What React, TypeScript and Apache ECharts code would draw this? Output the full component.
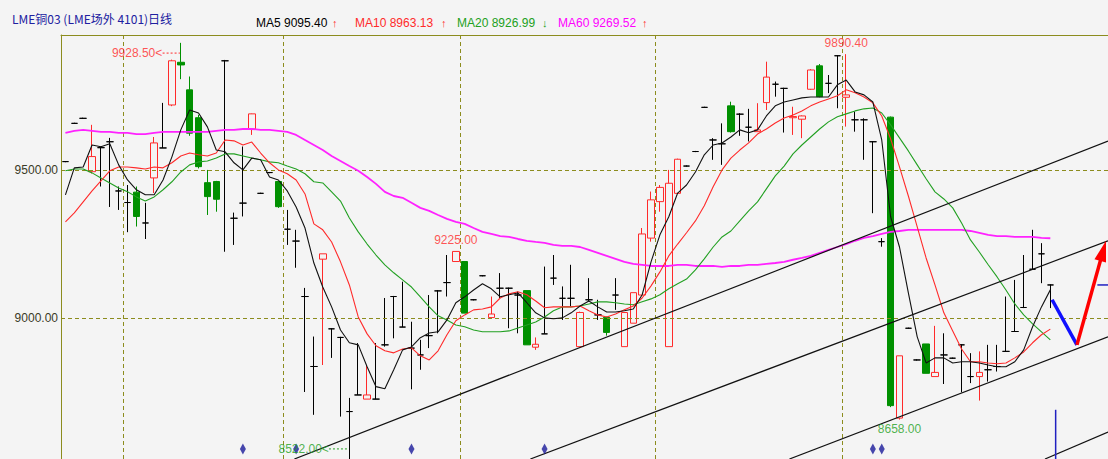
import React, { useEffect, useRef } from 'react';
import * as echarts from 'echarts';

// ---------- data ----------
const slotCount = 118; // 112 trading days + empty space on the right

const opens = [
  9528, 9657, 9674, 9494, 9575, 9595, 9429, 9390, 9425, 9321,
  9473, 9574, 9719, 9863, 9770, 9676, 9457, 9461, 9868, 9337,
  9388, 9638, 9421, 9491, 9461, 9300, 9260, 9073, 8837, 9199,
  8964, 8935, 8685, 8741, 8727, 8727, 8910, 9073, 8970, 8899,
  8876, 8941, 9092, 9120, 9191, 9191, 9062, 9143, 9002, 9101,
  9101, 9078, 9093, 8902, 8947, 9135, 9067, 9067, 8904, 9062,
  9011, 9003, 9078, 8904, 8983, 9078, 9270, 9393, 8904, 9421,
  9513, 9562, 9711, 9601, 9588, 9716, 9688, 9644, 9629, 9727,
  9789, 9775, 9676, 9671, 9772, 9851, 9792, 9885, 9745, 9669,
  9669, 9595, 9258, 9678, 8663, 8966, 8859, 8913, 8803, 8876,
  8865, 8910, 8803, 8803, 8826, 8837, 8888, 8955, 9036, 9165,
  9217, 9112,
];
const closes = [
  9528, 9657, 9674, 9545, 9575, 9595, 9429, 9390, 9343, 9321,
  9591, 9574, 9868, 9854, 9624, 9511, 9410, 9401, 9868, 9337,
  9388, 9689, 9421, 9491, 9376, 9300, 9260, 9073, 8837, 9217,
  8964, 8935, 8685, 8741, 8741, 8727, 8910, 9073, 8970, 8899,
  8876, 8941, 9092, 9120, 9225, 9017, 9062, 9143, 9014, 9101,
  9101, 9078, 8910, 8912, 8947, 9135, 9067, 9067, 9019, 9062,
  9011, 8952, 9078, 9019, 9086, 9284, 9399, 9441, 9455, 9536,
  9513, 9562, 9711, 9601, 9588, 9629, 9688, 9644, 9635, 9813,
  9789, 9775, 9680, 9682, 9837, 9747, 9792, 9885, 9753, 9669,
  9669, 9595, 9258, 8705, 8873, 8966, 8859, 8814, 8817, 8876,
  8865, 8910, 8803, 8817, 8826, 8837, 8888, 8955, 9036, 9165,
  9217, 9112,
];
const lows = [
  9526, 9655, 9672, 9488, 9444, 9375, 9365, 9290, 9309, 9267,
  9422, 9574, 9715, 9806, 9615, 9505, 9348, 9359, 9224, 9247,
  9343, 9618, 9419, 9489, 9372, 9247, 9170, 8751, 8674, 8842,
  8866, 8668, 8522, 8741, 8727, 8727, 8904, 8932, 8970, 8760,
  8826, 8899, 8949, 9073, 9191, 9017, 9060, 9141, 9002, 9067,
  8966, 8949, 8910, 8893, 8947, 9112, 8994, 9039, 8904, 9056,
  8994, 8941, 9028, 8904, 8983, 9075, 9258, 9359, 8904, 9419,
  9511, 9560, 9709, 9534, 9517, 9626, 9615, 9596, 9629, 9702,
  9747, 9626, 9618, 9607, 9770, 9745, 9759, 9708, 9646, 9629,
  9534, 9354, 9241, 8700, 8658, 8964, 8857, 8814, 8803, 8778,
  8863, 8750, 8781, 8722, 8786, 8820, 8888, 8955, 9034, 9165,
  9118, 9034,
];
const highs = [
  9530, 9659, 9676, 9652, 9579, 9608, 9444, 9449, 9444, 9389,
  9611, 9726, 9872, 9928.5, 9815, 9686, 9500, 9463, 9871, 9356,
  9579, 9690, 9423, 9493, 9463, 9365, 9298, 9102, 8938, 9217,
  8966, 8937, 8731, 8916, 8842, 8916, 9068, 9075, 9123, 8988,
  8927, 9078, 9095, 9213, 9225, 9191, 9064, 9145, 9073, 9152,
  9103, 9090, 9093, 8935, 9174, 9213, 9107, 9180, 9022, 9135,
  9062, 9005, 9135, 9019, 9086, 9304, 9427, 9449, 9500, 9538,
  9515, 9564, 9713, 9607, 9657, 9730, 9691, 9706, 9725, 9865,
  9798, 9777, 9713, 9684, 9840, 9857, 9820, 9887, 9890.4, 9697,
  9674, 9597, 9270, 9680, 8873, 8968, 8861, 8913, 8974, 8949,
  8867, 8912, 8882, 8888, 8910, 8910, 9073, 9129, 9213, 9298,
  9253, 9114,
];

const ma5 = [
  9416, 9507, 9510, 9584, 9578, 9588, 9517, 9466, 9433, 9416,
  9416, 9466, 9544, 9635, 9702, 9692, 9645, 9567, 9561, 9524,
  9500, 9540, 9534, 9476, 9466, 9429, 9375, 9304, 9186, 9105,
  9038, 8960, 8917, 8910, 8836, 8769, 8762, 8826, 8893, 8903,
  8934, 8950, 8954, 8994, 9052, 9072, 9095, 9116, 9099, 9072,
  9079, 9085, 9052, 9018, 9001, 8998, 9001, 9018, 9041, 9058,
  9038, 9021, 9021, 9025, 9031, 9079, 9190, 9281, 9342, 9422,
  9449, 9493, 9551, 9584, 9591, 9611, 9635, 9625, 9635, 9682,
  9716, 9729, 9736, 9743, 9746, 9746, 9746, 9787, 9803, 9763,
  9753, 9729, 9601, 9342, 9240, 9085, 8937, 8849, 8866, 8866,
  8849, 8853, 8853, 8849, 8842, 8836, 8836, 8853, 8893, 8971,
  9038, 9095.40,
];
const ma10 = [
  9325, 9355, 9392, 9429, 9463, 9497, 9510, 9510, 9507, 9503,
  9510, 9507, 9524, 9547, 9557, 9551, 9547, 9557, 9601, 9598,
  9584, 9594, 9557, 9524, 9500, 9487, 9466, 9419, 9318, 9298,
  9257, 9190, 9112, 9004, 8947, 8907, 8890, 8883, 8896, 8900,
  8873, 8859, 8890, 8944, 8991, 9011, 9028, 9031, 9038, 9068,
  9082, 9089, 9079, 9058, 9035, 9038, 9038, 9038, 9041, 9025,
  9011, 9004, 9014, 9028, 9041, 9068, 9109, 9156, 9210, 9250,
  9288, 9328, 9379, 9443, 9500, 9540, 9567, 9591, 9621, 9638,
  9658, 9675, 9685, 9699, 9716, 9729, 9739, 9750, 9770, 9760,
  9746, 9726, 9682, 9605, 9510, 9412, 9308, 9203, 9112, 9018,
  8957, 8896, 8853, 8853, 8849, 8846, 8849, 8866, 8886, 8917,
  8944, 8963.13,
];
const ma20 = [
  9497, 9503, 9503, 9490, 9473, 9456, 9439, 9426, 9409, 9395,
  9409, 9433, 9460, 9493, 9517, 9527, 9530, 9540, 9554, 9554,
  9547, 9540, 9534, 9527, 9524, 9513, 9503, 9487, 9460, 9456,
  9426, 9395, 9338, 9291, 9250, 9213, 9180, 9153, 9129, 9105,
  9072, 9038, 9008, 8994, 8977, 8971, 8960, 8954, 8954, 8954,
  8957, 8967, 8977, 8987, 9004, 9025, 9038, 9038, 9041, 9048,
  9055, 9055, 9052, 9048, 9045, 9055, 9065, 9079, 9099, 9116,
  9132, 9163, 9200, 9240, 9274, 9294, 9328, 9362, 9392, 9436,
  9480, 9513, 9554, 9584, 9611, 9638, 9662, 9679, 9689, 9699,
  9706, 9709, 9692, 9652, 9608, 9564, 9517, 9470, 9426, 9402,
  9372, 9321, 9264, 9223, 9180, 9139, 9095, 9048, 9011, 8981,
  8954, 8926.99,
];
const ma60 = [
  9625, 9632, 9635, 9632, 9628, 9628, 9625, 9625, 9621, 9621,
  9625, 9628, 9628, 9628, 9628, 9628, 9628, 9632, 9635, 9635,
  9638, 9638, 9635, 9635, 9632, 9628, 9618, 9601, 9584, 9567,
  9547, 9530, 9513, 9497, 9476, 9453, 9426, 9412, 9406, 9389,
  9372, 9362, 9348, 9335, 9325, 9318, 9304, 9291, 9284, 9277,
  9274, 9267, 9261, 9257, 9254, 9247, 9244, 9244, 9240, 9230,
  9220, 9210, 9200, 9190, 9183, 9180, 9176, 9176, 9176, 9180,
  9180, 9176, 9176, 9176, 9173, 9176, 9176, 9180, 9180, 9183,
  9186, 9190, 9197, 9203, 9210, 9220, 9230, 9240, 9250, 9261,
  9271, 9277, 9284, 9291, 9294, 9298, 9298, 9298, 9298, 9298,
  9298, 9298, 9294, 9288, 9281, 9277, 9277, 9274, 9274, 9274,
  9271, 9269.52,
];

const gridPrices = [9000, 9500];
const monthBreaks = [6.5, 24.5, 44.5, 66.5, 87.5];
const eventDays = [20, 26, 39, 54, 91, 92];
const eventLevel = 8559;

// channel lines: [slot, price] end points
const channelLines = [
  [[25.8, 8525], [117.5, 9597]],
  [[52.4, 8525], [117.5, 9261]],
  [[81.6, 8525], [117.5, 8937]],
  [[110.4, 8525], [117.5, 8616]],
];
const forecastDown = [[111.2, 9062], [114.0, 8910]];
const forecastUp = [[114.0, 8910], [116.95, 9227]];
const markerVertical = [[111.6, 8525], [111.6, 8691]];
const markerHorizontal = [[116.3, 9112], [117.6, 9112]];
const highLeader = [[10.95, 9894], [12.9, 9894]];
const lowLeader = [[29.7, 8559], [31.9, 8559]];

const RED = '#ff2a2a';
const GREEN = '#009000';
const MAGREEN = '#22a022';
const OLIVE = '#8c8c1e';
const FONT = '"Liberation Sans", Arial, sans-serif';

export default function App() {
  const ref = useRef<HTMLDivElement>(null);

  useEffect(() => {
    if (!ref.current) return;
    const chart = echarts.init(ref.current, undefined, { renderer: 'svg' });

    const categories = Array.from({ length: slotCount }, (_, i) => String(i));
    const candleData = opens.map((o, i) => {
      const v = [o, closes[i], lows[i], highs[i]];
      if (o === closes[i]) {
        return {
          value: v,
          itemStyle: {
            color: '#000', color0: '#000', borderColor: '#000',
            borderColor0: '#000', borderColorDoji: '#000',
          },
        };
      }
      return v;
    });

    const maLine = (name: string, data: number[], color: string, width: number) => ({
      type: 'line', name, data, xAxisIndex: 0, yAxisIndex: 0,
      showSymbol: false, symbol: 'none', z: 5, silent: true,
      lineStyle: { color, width },
    });

    const segLine = (data: number[][], color: string, width: number, z = 6, type: any = 'solid') => ({
      type: 'line', data, xAxisIndex: 1, yAxisIndex: 0, showSymbol: false,
      symbol: 'none', z, silent: true, lineStyle: { color, width, type },
    });

    const last = (a: number[]) => a[a.length - 1].toFixed(2);

    const option: any = {
      animation: false,
      backgroundColor: '#f4f4f4',
      grid: { left: 61, right: 0, top: 35, bottom: 0, containLabel: false },
      xAxis: [
        {
          type: 'category', data: categories, boundaryGap: true,
          axisLine: { show: false }, axisTick: { show: false },
          axisLabel: { show: false }, splitLine: { show: false },
        },
        {
          type: 'value', min: -0.5, max: slotCount - 0.5, position: 'top',
          axisLine: { show: true, onZero: false, lineStyle: { color: OLIVE, width: 1 } },
          axisTick: { show: false }, axisLabel: { show: false }, splitLine: { show: false },
        },
      ],
      yAxis: [
        {
          type: 'value', min: 8525, max: 9955, scale: true, position: 'left',
          axisLine: { show: true, onZero: false, lineStyle: { color: OLIVE, width: 1 } },
          axisTick: { show: false }, axisLabel: { show: false }, splitLine: { show: false },
        },
      ],
      graphic: [
        {
          type: 'text', x: 12, y: 18,
          style: {
            text: 'LME铜03 (LME场外 4101)日线', fill: '#2020a0',
            font: '12px "Noto Sans CJK SC", sans-serif', verticalAlign: 'middle',
          },
        },
        { type: 'text', x: 256, y: 23, style: { text: `MA5 ${last(ma5)}`, fill: '#000', font: `12px ${FONT}`, verticalAlign: 'middle' } },
        { type: 'text', x: 332, y: 23, style: { text: '↑', fill: RED, font: `11px ${FONT}`, verticalAlign: 'middle' } },
        { type: 'text', x: 355, y: 23, style: { text: `MA10 ${last(ma10)}`, fill: RED, font: `12px ${FONT}`, verticalAlign: 'middle' } },
        { type: 'text', x: 441, y: 23, style: { text: '↑', fill: RED, font: `11px ${FONT}`, verticalAlign: 'middle' } },
        { type: 'text', x: 457, y: 23, style: { text: `MA20 ${last(ma20)}`, fill: MAGREEN, font: `12px ${FONT}`, verticalAlign: 'middle' } },
        { type: 'text', x: 542, y: 23, style: { text: '↓', fill: MAGREEN, font: `11px ${FONT}`, verticalAlign: 'middle' } },
        { type: 'text', x: 558, y: 23, style: { text: `MA60 ${last(ma60)}`, fill: '#ff00ff', font: `12px ${FONT}`, verticalAlign: 'middle' } },
        { type: 'text', x: 642, y: 23, style: { text: '↑', fill: RED, font: `11px ${FONT}`, verticalAlign: 'middle' } },
      ],
      series: [
        {
          type: 'line', name: 'frame', xAxisIndex: 1, yAxisIndex: 0, data: [], z: 1, silent: true,
          markLine: {
            silent: true, symbol: ['none', 'none'], animation: false,
            lineStyle: { color: OLIVE, type: [4, 3], width: 1 },
            label: { show: false },
            data: [
              ...gridPrices.map((v) => ({
                yAxis: v,
                label: {
                  show: true, position: 'start', formatter: v.toFixed(2), distance: 3,
                  color: '#3a3a26', fontSize: 12, fontFamily: FONT,
                },
              })),
              ...monthBreaks.map((x) => ({ xAxis: x })),
            ],
          },
        },
        {
          type: 'candlestick', name: 'K', data: candleData, xAxisIndex: 0, yAxisIndex: 0,
          barWidth: 7, z: 3, silent: true,
          itemStyle: {
            color: '#f4f4f4', color0: GREEN, borderColor: RED, borderColor0: GREEN,
            borderColorDoji: '#000', borderWidth: 1,
          },
        },
        maLine('MA60', ma60, '#ff22ff', 1.8),
        maLine('MA20', ma20, MAGREEN, 1.1),
        maLine('MA10', ma10, RED, 1.1),
        maLine('MA5', ma5, '#111', 1.1),
        ...channelLines.map((l) => segLine(l, '#111', 1.2)),
        segLine(forecastDown, '#1010ff', 3.5, 7),
        {
          type: 'line', xAxisIndex: 1, yAxisIndex: 0, z: 7, silent: true,
          data: [
            { value: forecastUp[0], symbol: 'none' },
            { value: forecastUp[1], symbol: 'triangle', symbolSize: [12, 21], symbolRotate: -16 },
          ],
          showSymbol: true, showAllSymbol: true,
          itemStyle: { color: '#ff0000' },
          lineStyle: { color: '#ff0000', width: 3.5 },
        },
        segLine(markerVertical, '#2020c0', 1.5, 7),
        segLine(markerHorizontal, '#2020c0', 1.5, 7),
        segLine(highLeader, RED, 1, 7, [2, 2]),
        segLine(lowLeader, MAGREEN, 1, 7, [2, 2]),
        {
          type: 'scatter', xAxisIndex: 0, yAxisIndex: 0, z: 8, silent: true,
          symbol: 'diamond', symbolSize: [6, 11],
          itemStyle: { color: '#1a1a9a' },
          data: eventDays.map((d) => [d, eventLevel]),
        },
        {
          type: 'scatter', xAxisIndex: 0, yAxisIndex: 0, z: 9, silent: true,
          symbolSize: 1, itemStyle: { color: 'rgba(0,0,0,0)' },
          label: { show: true, fontSize: 12, fontFamily: FONT },
          data: [
            { value: [13, highs[13]], label: { position: 'left', distance: 18, offset: [0, 10], formatter: `${highs[13].toFixed(2)}<`, color: RED } },
            { value: [88, highs[88]], label: { position: 'top', distance: 5, formatter: highs[88].toFixed(2), color: RED } },
            { value: [44, highs[44]], label: { position: 'top', distance: 5, formatter: highs[44].toFixed(2), color: RED } },
            { value: [94, lows[94]], label: { position: 'bottom', distance: 3, formatter: lows[94].toFixed(2), color: MAGREEN } },
            { value: [32, eventLevel], label: { position: 'left', distance: 20, formatter: `${lows[32].toFixed(2)}<`, color: MAGREEN } },
          ],
        },
      ],
    };

    chart.setOption(option);
    return () => chart.dispose();
  }, []);

  return (
    <div
      ref={ref}
      style={{ position: 'fixed', left: 0, top: 0, width: 1108, height: 459, background: '#f4f4f4' }}
    />
  );
}
